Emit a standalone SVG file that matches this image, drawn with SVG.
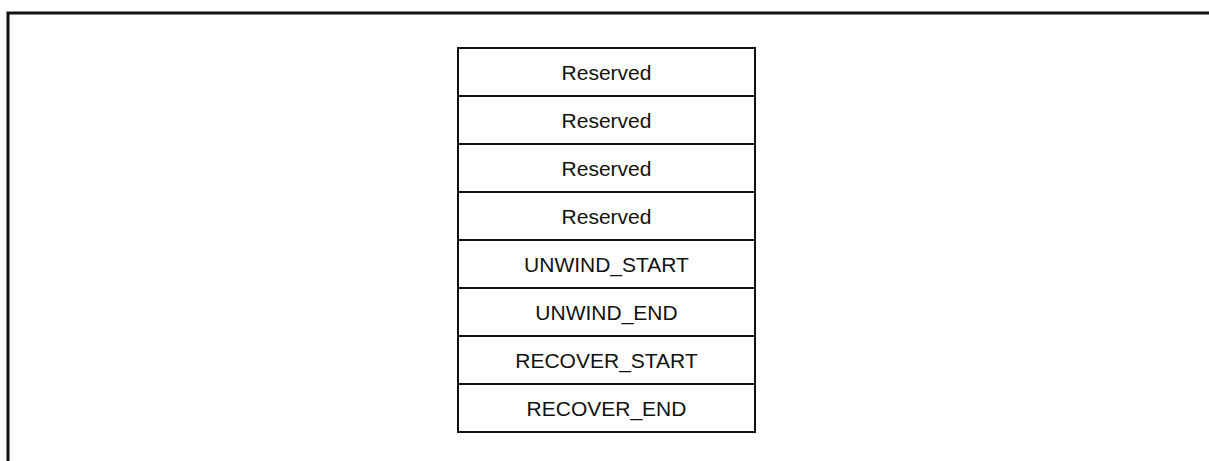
<svg xmlns="http://www.w3.org/2000/svg" width="1209" height="461" viewBox="0 0 1209 461">
<style>
.frame{fill:none;stroke:#111;stroke-width:3}
.cell{fill:#fff;stroke:#111;stroke-width:2}
.lbl{font-family:"Liberation Sans",Arial,sans-serif;font-size:21px;fill:#111;text-anchor:middle}
</style>
<rect width="1209" height="461" fill="#fff"/>
<path class="frame" d="M8,461 V13 H1209"/>
<g id="row1"><rect class="cell" x="458" y="48" width="297" height="48"/><text class="lbl" x="606.5" y="80">Reserved</text></g>
<g id="row2"><rect class="cell" x="458" y="96" width="297" height="48"/><text class="lbl" x="606.5" y="128">Reserved</text></g>
<g id="row3"><rect class="cell" x="458" y="144" width="297" height="48"/><text class="lbl" x="606.5" y="176">Reserved</text></g>
<g id="row4"><rect class="cell" x="458" y="192" width="297" height="48"/><text class="lbl" x="606.5" y="224">Reserved</text></g>
<g id="row5"><rect class="cell" x="458" y="240" width="297" height="48"/><text class="lbl" x="606.5" y="272">UNWIND_START</text></g>
<g id="row6"><rect class="cell" x="458" y="288" width="297" height="48"/><text class="lbl" x="606.5" y="320">UNWIND_END</text></g>
<g id="row7"><rect class="cell" x="458" y="336" width="297" height="48"/><text class="lbl" x="606.5" y="368">RECOVER_START</text></g>
<g id="row8"><rect class="cell" x="458" y="384" width="297" height="48"/><text class="lbl" x="606.5" y="416">RECOVER_END</text></g>
<g id="connectors"></g>
</svg>
